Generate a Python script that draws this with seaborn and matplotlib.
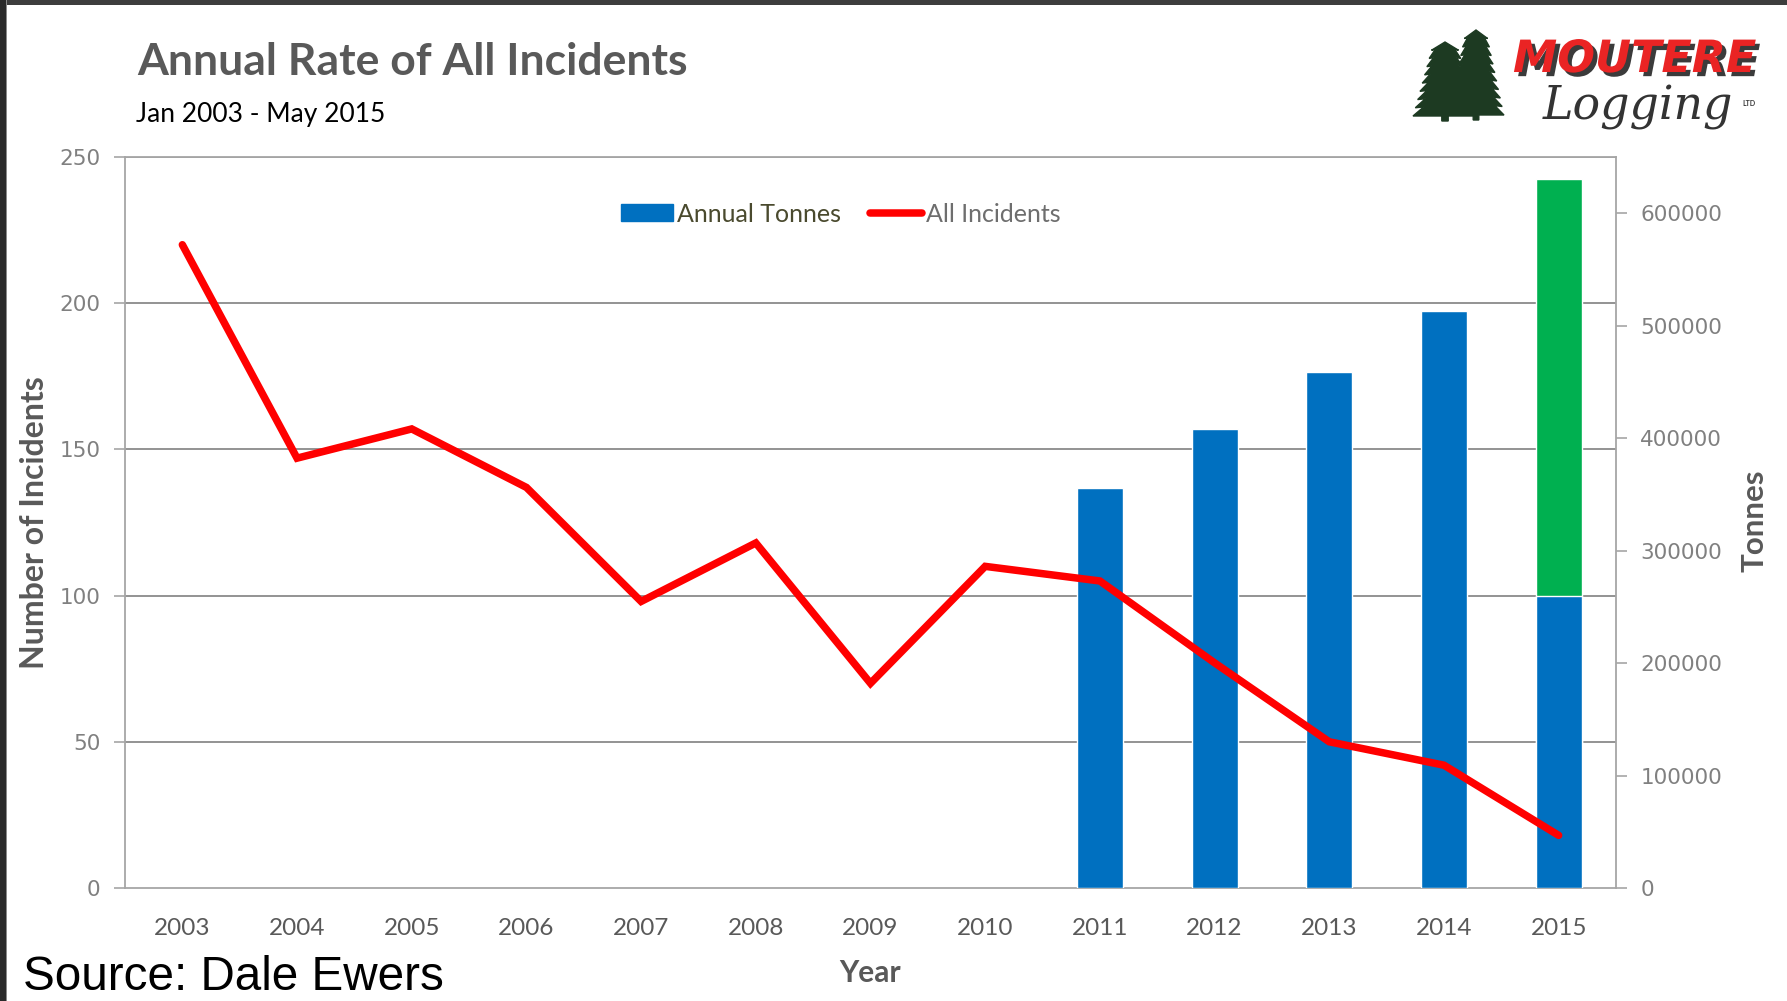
import numpy as np
import pandas as pd
import matplotlib
matplotlib.use("Agg")
import matplotlib.pyplot as plt
import matplotlib.patheffects as pe
from matplotlib.patches import Patch, Rectangle, Polygon
from matplotlib.lines import Line2D
import seaborn as sns

# ---- data -------------------------------------------------------------
years = [str(y) for y in range(2003, 2016)]
incidents = [220, 147, 157, 137, 98, 118, 70, 110, 105, 77, 50, 42, 18]

tonne_years = ["2011", "2012", "2013", "2014", "2015"]
annual_tonnes = [356000, 408000, 459000, 513000, 260000]   # 2015 = Jan-May
projected_year = ["2015"]
projected_tonnes = [630000]                                 # full-year 2015

incident_ticks = [0, 50, 100, 150, 200, 250]
tonne_ticks = [0, 100000, 200000, 300000, 400000, 500000, 600000]
INC_MAX = 250
TONNE_MAX = 650000

BLUE = "#0070c0"
GREEN = "#00b050"
RED = "#ff0000"
AXIS_GREY = "#a6a6a6"
GRID_GREY = "#8a8a8a"

# ---- style ------------------------------------------------------------
sns.set_style("white")
plt.rcParams["font.family"] = ["Lato", "DejaVu Sans"]

W, H = 1787, 1001
fig = plt.figure(figsize=(W / 100, H / 100), dpi=100)
fig.patch.set_facecolor("white")


def fx(px):
    return px / W


def fy(py):
    return 1 - py / H


ax_t = fig.add_axes([fx(125), fy(888), fx(1616) - fx(125), fy(157) - fy(888)])
ax_i = ax_t.twinx()
ax_t.set_zorder(1)
ax_i.set_zorder(2)
ax_i.patch.set_visible(False)

# horizontal gridlines at the incident tick levels (drawn beneath the bars)
for v in incident_ticks[1:]:
    ax_t.axhline(v * TONNE_MAX / INC_MAX, color=GRID_GREY, lw=1.3, zorder=0)

# tonnes bars: projected 2015 total behind, actual tonnage in front
proj_df = pd.DataFrame({"year": projected_year, "tonnes": projected_tonnes})
sns.barplot(data=proj_df, x="year", y="tonnes", order=years, color=GREEN,
            saturation=1, width=0.40, errorbar=None, ax=ax_t, zorder=2)
tonne_df = pd.DataFrame({"year": tonne_years, "tonnes": annual_tonnes})
sns.barplot(data=tonne_df, x="year", y="tonnes", order=years, color=BLUE,
            saturation=1, width=0.40, errorbar=None, ax=ax_t, zorder=3)

# incidents line
line_df = pd.DataFrame({"pos": np.arange(len(years)), "incidents": incidents})
sns.lineplot(data=line_df, x="pos", y="incidents", ax=ax_i, color=RED,
             lw=5.4, solid_capstyle="round", solid_joinstyle="miter")

# ---- axes -------------------------------------------------------------
ax_t.set_xlim(-0.5, len(years) - 0.5)
ax_t.set_ylim(0, TONNE_MAX)
ax_i.set_ylim(0, INC_MAX)

ax_t.set_xticks(range(len(years)), labels=years)
ax_t.set_xticks(np.arange(-0.5, len(years)), minor=True)
ax_t.tick_params(axis="x", which="major", length=0, pad=21.5,
                 labelsize=17.5, labelcolor="#595959")
ax_t.tick_params(axis="x", which="minor", length=10, width=1.2,
                 color=AXIS_GREY)

ax_t.yaxis.tick_right()
ax_t.yaxis.set_label_position("right")
ax_t.set_yticks(tonne_ticks, labels=[str(t) for t in tonne_ticks])
ax_t.tick_params(axis="y", length=8, width=1.2, color=AXIS_GREY, pad=9.5,
                 labelsize=15.5, labelcolor="#808080",
                 labelfontfamily="DejaVu Sans")

ax_i.yaxis.tick_left()
ax_i.yaxis.set_label_position("left")
ax_i.set_yticks(incident_ticks, labels=[str(t) for t in incident_ticks])
ax_i.tick_params(axis="y", length=8, width=1.2, color=AXIS_GREY, pad=9.5,
                 labelsize=15.5, labelcolor="#808080",
                 labelfontfamily="DejaVu Sans")

for sp in ax_t.spines.values():
    sp.set_visible(True)
    sp.set_color(AXIS_GREY)
    sp.set_linewidth(1.3)
for sp in ax_i.spines.values():
    sp.set_visible(False)

label_kw = dict(fontweight="bold", color="#595959")
ax_t.set_xlabel("Year", va="center", fontsize=21.5, **label_kw)
ax_t.xaxis.set_label_coords(0.5, -0.1166)
ax_i.set_ylabel("Number of Incidents", va="center", fontsize=23, **label_kw)
ax_i.yaxis.set_label_coords(-0.061, 0.5)
ax_t.set_ylabel("Tonnes", va="center", rotation=90, fontsize=22.5, **label_kw)
ax_t.yaxis.set_label_coords(1.0926, 0.502)

# ---- legend -----------------------------------------------------------
handles = [Patch(facecolor=BLUE, edgecolor=BLUE),
           Line2D([0], [0], color=RED, lw=5.4, solid_capstyle="round")]
leg = ax_i.legend(handles, ["Annual Tonnes", "All Incidents"], ncol=2,
                  loc="center", bbox_to_anchor=(0.48, 0.922), frameon=False,
                  fontsize=18, handlelength=2.1, handleheight=0.68,
                  handletextpad=0.15, columnspacing=1.15)
leg.get_texts()[0].set_color("#4a4a2e")
leg.get_texts()[1].set_color("#6e6e6e")

# ---- titles and source ------------------------------------------------
fig.text(fx(137), fy(75), "Annual Rate of All Incidents", fontsize=32,
         fontweight="bold", color="#595959", ha="left", va="baseline")
fig.text(fx(136), fy(122), "Jan 2003 - May 2015", fontsize=19,
         color="black", ha="left", va="baseline")
fig.text(fx(23), fy(990), "Source: Dale Ewers", fontsize=34.3,
         family="Liberation Sans", color="black", ha="left", va="baseline")

# ---- company logo -----------------------------------------------------
TREE = "#1d3a22"


def conifer(px, py, height, half_width, tiers):
    step = height / tiers
    pts = [(px, py)]
    for k in range(1, tiers + 1):
        yy = py + step * k
        outer = half_width * (0.35 + 0.65 * k / tiers)
        inner = outer * 0.72
        pts.append((px + outer, yy))
        if k < tiers:
            pts.append((px + inner, yy - step * 0.1))
    pts.append((px + half_width * 0.1, py + height))
    pts.append((px + half_width * 0.1, py + height + 5))
    pts.append((px - half_width * 0.1, py + height + 5))
    pts.append((px - half_width * 0.1, py + height))
    for k in range(tiers, 0, -1):
        yy = py + step * k
        outer = half_width * (0.35 + 0.65 * k / tiers)
        inner = outer * 0.72
        if k < tiers:
            pts.append((px - inner, yy - step * 0.1))
        pts.append((px - outer, yy))
    return Polygon([(fx(a), fy(b)) for a, b in pts], closed=True,
                   transform=fig.transFigure, facecolor=TREE,
                   edgecolor=TREE, lw=1)


fig.patches.append(conifer(1445, 42, 74, 32, 9))
fig.patches.append(conifer(1476, 30, 85, 28, 10))

fig.text(fx(1513), fy(72), "MOUTERE", fontsize=32, fontweight="bold",
         style="oblique", family="DejaVu Sans", color="#ea2424",
         ha="left", va="baseline",
         path_effects=[pe.withSimplePatchShadow(offset=(3, -3),
                                                shadow_rgbFace="#3b3b3b",
                                                alpha=1.0)])
fig.text(fx(1543), fy(120), "Logging", fontsize=33, style="italic",
         family="DejaVu Serif", color="#333333", ha="left",
         va="baseline")
fig.text(fx(1742), fy(106), "LTD", fontsize=5, fontweight="bold",
         color="#333333", ha="left", va="baseline")

# ---- dark frame at top and left edges ---------------------------------
fig.patches.append(Rectangle((0, fy(5)), 1, fy(0) - fy(5),
                             transform=fig.transFigure, facecolor="#3d3d3d",
                             edgecolor="none"))
fig.patches.append(Rectangle((0, 0), fx(6), 1, transform=fig.transFigure,
                             facecolor="#2a2a2a", edgecolor="none"))
fig.patches.append(Rectangle((fx(6), 0), fx(1.5), 1,
                             transform=fig.transFigure, facecolor="#8a8a8a",
                             edgecolor="none"))

fig.savefig("out.png", dpi=100)
